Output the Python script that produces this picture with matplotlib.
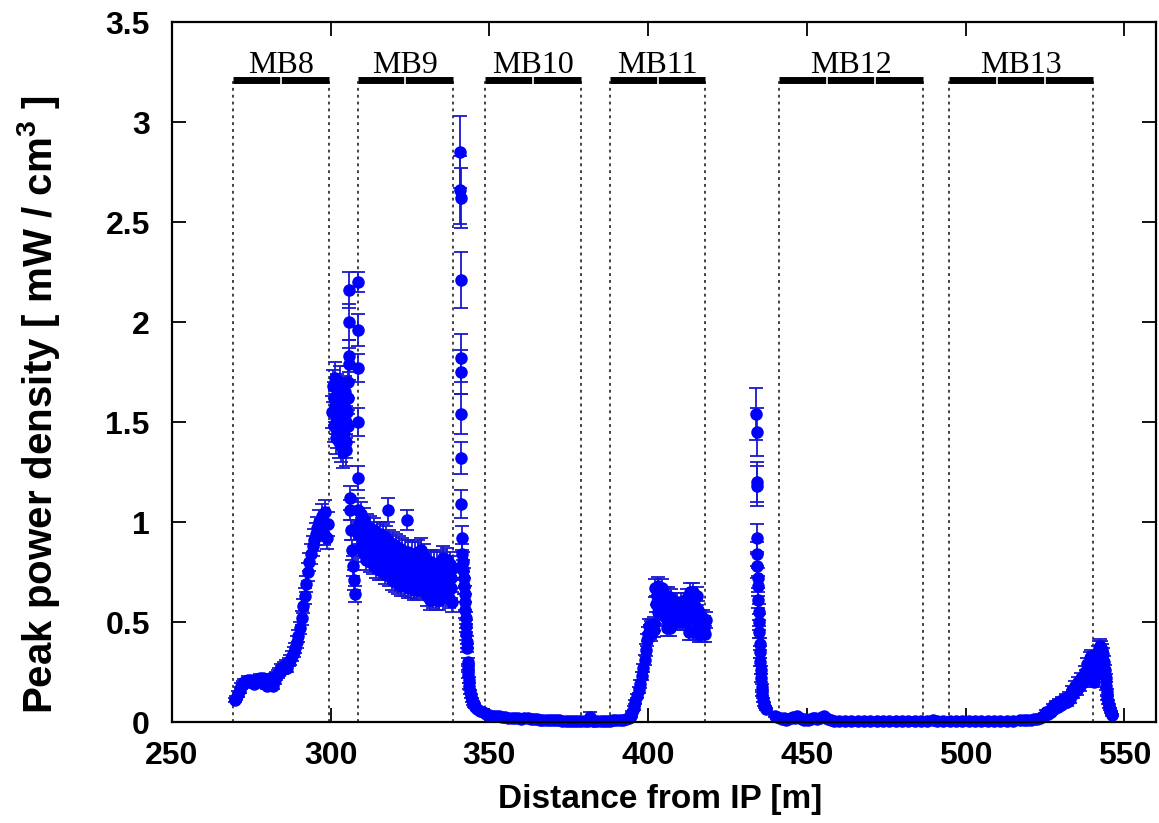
import matplotlib
matplotlib.use('Agg')
import matplotlib.pyplot as plt
from matplotlib.ticker import FuncFormatter

plt.rcParams['font.family'] = ['Liberation Sans', 'DejaVu Sans']
plt.rcParams['mathtext.fontset'] = 'custom'
plt.rcParams['mathtext.bf'] = 'Liberation Sans:bold'
plt.rcParams['mathtext.rm'] = 'Liberation Sans'

# ---------------- data ----------------
# MB8 rise
mb8_x = [269.8, 270.3, 270.8, 271.3, 271.8, 272.3, 272.8, 273.3, 273.8, 274.3,
         274.8, 275.3, 275.8, 276.3, 276.8, 277.3, 277.8, 278.3, 278.8, 279.3,
         279.8, 280.3, 280.8, 281.3, 281.8, 282.3, 282.8, 283.3, 283.8, 284.3,
         284.8, 285.3, 285.8, 286.3, 286.8, 287.3, 287.8, 288.3, 288.8, 289.3,
         289.8, 290.3, 290.8, 291.3, 291.8, 292.3, 292.8, 293.3, 293.8, 294.3,
         294.8, 295.3, 295.8, 296.3, 296.8, 297.3, 297.8, 298.3, 298.8, 299.3]
mb8_y = [0.11, 0.12, 0.14, 0.16, 0.18, 0.19, 0.20, 0.20, 0.21, 0.20,
         0.21, 0.20, 0.19, 0.21, 0.21, 0.20, 0.22, 0.21, 0.22, 0.19,
         0.18, 0.21, 0.22, 0.19, 0.18, 0.21, 0.23, 0.24, 0.25, 0.27,
         0.26, 0.28, 0.29, 0.27, 0.30, 0.31, 0.33, 0.35, 0.37, 0.40,
         0.43, 0.47, 0.52, 0.58, 0.63, 0.69, 0.75, 0.80, 0.84, 0.88,
         0.91, 0.94, 0.97, 1.00, 0.96, 1.03, 0.94, 1.05, 0.92, 0.99]
mb8_err = [0.012, 0.012, 0.014, 0.015, 0.016, 0.017, 0.017, 0.017, 0.018, 0.017,
           0.018, 0.017, 0.017, 0.018, 0.018, 0.017, 0.018, 0.018, 0.018, 0.017,
           0.017, 0.018, 0.018, 0.017, 0.017, 0.018, 0.019, 0.02, 0.02, 0.02,
           0.02, 0.02, 0.022, 0.022, 0.022, 0.024, 0.025, 0.025, 0.027, 0.028,
           0.03, 0.032, 0.035, 0.037, 0.04, 0.042, 0.045, 0.047, 0.05, 0.052,
           0.054, 0.055, 0.057, 0.06, 0.057, 0.06, 0.057, 0.06, 0.055, 0.058]

# blob between MB8 and MB9
blob_x = [300.5, 300.7, 300.9, 301.1, 301.3, 301.5, 301.7, 301.9, 302.1, 302.3,
          302.5, 302.7, 302.9, 303.1, 303.3, 303.5, 303.7, 303.9, 304.1, 304.3,
          304.5, 304.7, 304.9, 305.1, 305.3, 305.5, 301.6, 302.4, 303.2, 304.0,
          304.8, 305.4]
blob_y = [1.55, 1.68, 1.48, 1.62, 1.58, 1.72, 1.52, 1.45, 1.66, 1.60,
          1.40, 1.55, 1.70, 1.47, 1.38, 1.62, 1.52, 1.35, 1.58, 1.44,
          1.65, 1.50, 1.36, 1.55, 1.70, 1.62, 1.42, 1.50, 1.56, 1.46,
          1.40, 1.48]
blob_err = [0.08, 0.08, 0.08, 0.08, 0.08, 0.08, 0.08, 0.08, 0.08, 0.08,
            0.08, 0.08, 0.08, 0.08, 0.08, 0.08, 0.08, 0.08, 0.08, 0.08,
            0.08, 0.08, 0.08, 0.08, 0.08, 0.08, 0.08, 0.08, 0.08, 0.08,
            0.08, 0.08]

# isolated columns near the MB9 entrance
col_x = [305.8, 305.8, 305.9, 305.9, 306.0, 306.2, 306.5, 306.8, 307.0, 307.2, 307.5,
         308.5, 308.5, 308.6, 308.6, 308.7]
col_y = [2.16, 2.00, 1.83, 1.79, 1.12, 1.06, 0.96, 0.86, 0.78, 0.71, 0.64,
         2.20, 1.96, 1.77, 1.50, 1.22]
col_err = [0.09, 0.09, 0.08, 0.08, 0.06, 0.05, 0.05, 0.05, 0.05, 0.05, 0.04,
           0.05, 0.08, 0.07, 0.07, 0.06]

# MB9 band
mb9_x = [308.50, 308.75, 309.00, 309.25, 309.50, 309.75, 310.00, 310.25, 310.50, 310.75,
         311.00, 311.25, 311.50, 311.75, 312.00, 312.25, 312.50, 312.75, 313.00, 313.25,
         313.50, 313.75, 314.00, 314.25, 314.50, 314.75, 315.00, 315.25, 315.50, 315.75,
         316.00, 316.25, 316.50, 316.75, 317.00, 317.25, 317.50, 317.75, 318.00, 318.25,
         318.50, 318.75, 319.00, 319.25, 319.50, 319.75, 320.00, 320.25, 320.50, 320.75,
         321.00, 321.25, 321.50, 321.75, 322.00, 322.25, 322.50, 322.75, 323.00, 323.25,
         323.50, 323.75, 324.00, 324.25, 324.50, 324.75, 325.00, 325.25, 325.50, 325.75,
         326.00, 326.25, 326.50, 326.75, 327.00, 327.25, 327.50, 327.75, 328.00, 328.25,
         328.50, 328.75, 329.00, 329.25, 329.50, 329.75, 330.00, 330.25, 330.50, 330.75,
         331.00, 331.25, 331.50, 331.75, 332.00, 332.25, 332.50, 332.75, 333.00, 333.25,
         333.50, 333.75, 334.00, 334.25, 334.50, 334.75, 335.00, 335.25, 335.50, 335.75,
         336.00, 336.25, 336.50, 336.75, 337.00, 337.25, 337.50, 337.75, 338.00, 338.25,
         338.50, 318.00, 324.00]
mb9_y = [1.06, 0.94, 0.99, 0.87, 1.04, 0.92, 0.97, 0.85, 1.01, 0.89,
         0.93, 0.81, 0.98, 0.86, 0.92, 0.80, 0.97, 0.85, 0.91, 0.79,
         0.96, 0.84, 0.89, 0.77, 0.94, 0.82, 0.88, 0.76, 0.94, 0.82,
         0.88, 0.76, 0.93, 0.81, 0.86, 0.74, 0.92, 0.80, 0.85, 0.73,
         0.90, 0.78, 0.83, 0.71, 0.89, 0.77, 0.82, 0.70, 0.88, 0.76,
         0.81, 0.69, 0.87, 0.75, 0.80, 0.68, 0.86, 0.74, 0.80, 0.68,
         0.85, 0.73, 0.79, 0.67, 0.85, 0.73, 0.79, 0.67, 0.84, 0.72,
         0.78, 0.66, 0.84, 0.72, 0.78, 0.66, 0.85, 0.73, 0.79, 0.67,
         0.86, 0.74, 0.80, 0.68, 0.83, 0.71, 0.75, 0.63, 0.80, 0.68,
         0.73, 0.61, 0.80, 0.68, 0.74, 0.62, 0.79, 0.67, 0.73, 0.61,
         0.79, 0.67, 0.73, 0.61, 0.80, 0.68, 0.75, 0.63, 0.82, 0.70,
         0.76, 0.64, 0.81, 0.69, 0.74, 0.62, 0.79, 0.67, 0.72, 0.60,
         0.77, 1.06, 1.01]
mb9_err = [0.06, 0.05, 0.05, 0.05, 0.06, 0.05, 0.05, 0.05, 0.06, 0.05,
           0.05, 0.05, 0.06, 0.05, 0.05, 0.05, 0.06, 0.05, 0.05, 0.05,
           0.06, 0.05, 0.05, 0.05, 0.06, 0.05, 0.05, 0.05, 0.06, 0.05,
           0.05, 0.05, 0.06, 0.05, 0.05, 0.05, 0.06, 0.05, 0.05, 0.05,
           0.06, 0.05, 0.05, 0.05, 0.06, 0.05, 0.05, 0.05, 0.06, 0.05,
           0.05, 0.05, 0.06, 0.05, 0.05, 0.05, 0.06, 0.05, 0.05, 0.05,
           0.06, 0.05, 0.05, 0.05, 0.06, 0.05, 0.05, 0.05, 0.06, 0.05,
           0.05, 0.05, 0.06, 0.05, 0.05, 0.05, 0.06, 0.05, 0.05, 0.05,
           0.06, 0.05, 0.05, 0.05, 0.06, 0.05, 0.05, 0.05, 0.06, 0.05,
           0.05, 0.05, 0.06, 0.05, 0.05, 0.05, 0.06, 0.05, 0.05, 0.05,
           0.06, 0.05, 0.05, 0.05, 0.06, 0.05, 0.05, 0.05, 0.06, 0.05,
           0.05, 0.05, 0.06, 0.05, 0.05, 0.05, 0.06, 0.05, 0.05, 0.05,
           0.06, 0.06, 0.05]

# peak at the MB9 exit and decay
pk1_x = [340.8, 340.85, 340.9, 340.95, 341.0, 341.05, 341.1, 341.15, 341.2, 341.25,
         341.4, 341.6, 341.8, 342.0, 342.1, 342.2, 342.3, 342.4, 342.5, 342.6,
         342.7, 342.8, 342.9, 343.1, 343.2, 343.3, 343.5, 343.7, 343.9, 344.1,
         344.4, 344.7, 345.0, 345.5, 346.0, 347.0, 348.0, 349.0, 350.0]
pk1_y = [2.85, 2.66, 2.62, 2.21, 1.82, 1.75, 1.54, 1.32, 1.09, 0.92,
         0.84, 0.80, 0.76, 0.72, 0.68, 0.64, 0.60, 0.56, 0.52, 0.48,
         0.44, 0.40, 0.37, 0.30, 0.27, 0.24, 0.21, 0.18, 0.15, 0.13,
         0.11, 0.095, 0.085, 0.075, 0.065, 0.055, 0.05, 0.04, 0.035]
pk1_err = [0.18, 0.17, 0.15, 0.14, 0.12, 0.11, 0.10, 0.08, 0.07, 0.06,
           0.05, 0.05, 0.05, 0.05, 0.04, 0.04, 0.04, 0.04, 0.03, 0.03,
           0.03, 0.03, 0.02, 0.02, 0.02, 0.02, 0.015, 0.015, 0.012, 0.01,
           0.01, 0.01, 0.008, 0.006, 0.006, 0.005, 0.005, 0.005, 0.005]

# flat region MB10
flat1_x = [351, 352, 353, 354, 355, 356, 357, 358, 359, 360, 361, 362, 363, 364,
           365, 366, 367, 368, 369, 370, 371, 372, 373, 374, 375, 376, 377, 378,
           379, 380, 381, 381.7, 382.5, 383, 384, 385, 386, 387, 388, 389, 390,
           391, 392, 393, 394]
flat1_y = [0.032, 0.03, 0.028, 0.026, 0.024, 0.022, 0.02, 0.02, 0.018, 0.016, 0.018, 0.02, 0.016, 0.014,
           0.014, 0.012, 0.012, 0.01, 0.01, 0.009, 0.008, 0.008, 0.007, 0.007, 0.006, 0.006, 0.006, 0.006,
           0.005, 0.005, 0.005, 0.025, 0.005, 0.005, 0.005, 0.005, 0.006, 0.006, 0.007, 0.008, 0.009,
           0.01, 0.012, 0.014, 0.02]
flat1_err = [0.004, 0.004, 0.004, 0.004, 0.004, 0.004, 0.004, 0.004, 0.004, 0.004, 0.004, 0.004, 0.004, 0.004,
             0.004, 0.004, 0.004, 0.004, 0.004, 0.004, 0.004, 0.004, 0.004, 0.004, 0.004, 0.004, 0.004, 0.004,
             0.004, 0.004, 0.004, 0.025, 0.004, 0.004, 0.004, 0.004, 0.004, 0.004, 0.004, 0.004, 0.004,
             0.004, 0.004, 0.004, 0.004]

# MB11
mb11_x = [394.5, 395.0, 395.5, 396.0, 396.5, 397.0, 397.5, 398.0, 398.5, 399.0,
          399.3, 399.6, 400.0, 400.25, 400.5, 400.75, 401.0, 401.25, 401.5, 401.75,
          402.0, 402.25, 402.50, 402.75, 403.00, 403.25, 403.50, 403.75, 404.00, 404.25,
          404.50, 404.75, 405.00, 405.25, 405.50, 405.75, 406.00, 406.25, 406.50, 406.75,
          407.00, 407.25, 407.50, 407.75, 408.00, 408.25, 408.50, 408.75, 409.00, 409.25,
          409.50, 409.75, 410.00, 410.25, 410.50, 410.75, 411.00, 411.25, 411.50, 411.75,
          412.00, 412.25, 412.50, 412.75, 413.00, 413.25, 413.50, 413.75, 414.00, 414.25,
          414.50, 414.75, 415.00, 415.25, 415.50, 415.75, 416.00, 416.25, 416.50, 416.75,
          417.00, 417.25, 417.50, 417.75, 418.00, 418.25]
mb11_y = [0.03, 0.05, 0.07, 0.10, 0.13, 0.16, 0.19, 0.23, 0.27, 0.31,
          0.36, 0.41, 0.44, 0.48, 0.45, 0.47, 0.44, 0.48, 0.46, 0.49,
          0.46, 0.67, 0.59, 0.63, 0.55, 0.68, 0.59, 0.63, 0.55, 0.67,
          0.58, 0.62, 0.53, 0.63, 0.52, 0.58, 0.47, 0.63, 0.52, 0.58,
          0.47, 0.62, 0.52, 0.57, 0.50, 0.60, 0.53, 0.57, 0.50, 0.60,
          0.53, 0.57, 0.50, 0.60, 0.53, 0.57, 0.50, 0.60, 0.53, 0.57,
          0.50, 0.62, 0.52, 0.58, 0.45, 0.65, 0.52, 0.58, 0.45, 0.65,
          0.52, 0.58, 0.45, 0.63, 0.51, 0.56, 0.44, 0.52, 0.47, 0.49,
          0.44, 0.52, 0.47, 0.49, 0.44, 0.51]
mb11_err = [0.005, 0.006, 0.008, 0.01, 0.012, 0.015, 0.018, 0.02, 0.022, 0.025,
            0.03, 0.03, 0.035, 0.035, 0.035, 0.035, 0.035, 0.035, 0.035, 0.035,
            0.035, 0.045, 0.04, 0.045, 0.04, 0.045, 0.04, 0.045, 0.04, 0.045,
            0.04, 0.045, 0.04, 0.045, 0.04, 0.045, 0.04, 0.045, 0.04, 0.045,
            0.04, 0.045, 0.04, 0.045, 0.04, 0.045, 0.04, 0.045, 0.04, 0.045,
            0.04, 0.045, 0.04, 0.045, 0.04, 0.045, 0.04, 0.045, 0.04, 0.045,
            0.04, 0.045, 0.04, 0.045, 0.04, 0.045, 0.04, 0.045, 0.04, 0.045,
            0.04, 0.045, 0.04, 0.045, 0.04, 0.045, 0.04, 0.04, 0.04, 0.04,
            0.04, 0.04, 0.04, 0.04, 0.04, 0.04]

# peak before MB12
pk2_x = [434.1, 434.15, 434.2, 434.25, 434.3, 434.35, 434.4, 434.5, 434.6, 434.7,
         434.8, 434.9, 435.0, 435.1, 435.2, 435.35, 435.5, 435.65, 435.8, 436.0,
         436.2, 436.5, 436.8, 437.1]
pk2_y = [1.54, 1.45, 1.20, 1.18, 0.92, 0.84, 0.78, 0.72, 0.68, 0.61,
         0.55, 0.50, 0.45, 0.39, 0.35, 0.30, 0.26, 0.22, 0.175, 0.14,
         0.11, 0.09, 0.075, 0.065]
pk2_err = [0.13, 0.12, 0.10, 0.10, 0.07, 0.06, 0.06, 0.05, 0.05, 0.04,
           0.04, 0.04, 0.03, 0.03, 0.03, 0.02, 0.02, 0.02, 0.015, 0.012,
           0.01, 0.008, 0.006, 0.005]

# flat region MB12
flat2_x = [440.0, 440.7, 441.4, 442.1, 442.8, 443.5, 444.2, 444.9, 445.6, 446.3, 447.0,
           447.7, 448.4, 449.1, 449.8, 450.5, 451.2, 451.9, 452.6, 453.3, 454.0, 454.7,
           455.4, 456.1, 456.8, 457.5, 458.5, 460, 462, 464, 466, 468, 470, 472, 474,
           476, 478, 480, 482, 484, 486, 488, 489.8, 491, 493, 495, 497, 499, 501, 503,
           505, 507, 509, 511, 513, 515, 517, 518.5]
flat2_y = [0.03, 0.025, 0.02, 0.015, 0.018, 0.012, 0.015, 0.02, 0.025, 0.022, 0.028,
           0.022, 0.015, 0.012, 0.013, 0.012, 0.015, 0.018, 0.02, 0.016, 0.02, 0.025,
           0.028, 0.022, 0.015, 0.01, 0.005, 0.004, 0.003, 0.003, 0.003, 0.003, 0.003, 0.003, 0.003,
           0.003, 0.003, 0.003, 0.003, 0.003, 0.004, 0.005, 0.012, 0.006, 0.004, 0.003, 0.003, 0.003, 0.003, 0.003,
           0.003, 0.003, 0.004, 0.004, 0.005, 0.006, 0.008, 0.01]
flat2_err = [0.005, 0.005, 0.005, 0.005, 0.005, 0.005, 0.005, 0.005, 0.005, 0.005, 0.005,
             0.005, 0.005, 0.005, 0.005, 0.005, 0.005, 0.005, 0.005, 0.005, 0.005, 0.005,
             0.005, 0.005, 0.005, 0.005, 0.003, 0.003, 0.003, 0.003, 0.003, 0.003, 0.003, 0.003, 0.003,
             0.003, 0.003, 0.003, 0.003, 0.003, 0.003, 0.003, 0.006, 0.003, 0.003, 0.003, 0.003, 0.003, 0.003, 0.003,
             0.003, 0.003, 0.003, 0.003, 0.003, 0.003, 0.003, 0.003]

# MB13 rise and final peaks
mb13_x = [519.5, 520.5, 521.5, 522.5, 523.5, 524.3, 525.0, 525.5, 526.0, 526.5,
          527.0, 527.5, 528.0, 528.5, 529.0, 529.5, 530.0, 530.5, 531.0, 531.5,
          532.0, 532.5, 533.0, 533.5, 534.0, 534.5, 535.0, 535.5, 536.0, 536.5,
          537.0, 537.5, 538.0, 538.4, 538.8, 539.1, 539.4, 539.7, 540.0, 540.3,
          540.6, 540.9, 541.2, 541.5, 541.8, 542.1, 542.4, 542.7, 543.0, 543.3,
          543.6, 543.9, 544.1, 544.3, 544.5, 544.7, 544.9, 545.1, 545.4, 545.7,
          546.1]
mb13_y = [0.010, 0.012, 0.014, 0.016, 0.020, 0.028, 0.035, 0.05, 0.04, 0.06,
          0.05, 0.08, 0.065, 0.09, 0.075, 0.10, 0.085, 0.11, 0.095, 0.12,
          0.10, 0.13, 0.115, 0.16, 0.14, 0.18, 0.16, 0.20, 0.18, 0.22,
          0.20, 0.25, 0.23, 0.29, 0.26, 0.32, 0.33, 0.29, 0.25, 0.22,
          0.20, 0.24, 0.28, 0.32, 0.35, 0.37, 0.38, 0.37, 0.36, 0.34,
          0.30, 0.26, 0.22, 0.18, 0.15, 0.12, 0.10, 0.08, 0.065, 0.05,
          0.035]
mb13_err = [0.004, 0.004, 0.004, 0.005, 0.005, 0.006, 0.008, 0.01, 0.01, 0.01,
            0.01, 0.012, 0.012, 0.015, 0.015, 0.015, 0.015, 0.015, 0.015, 0.018,
            0.018, 0.02, 0.02, 0.02, 0.02, 0.025, 0.025, 0.025, 0.025, 0.025,
            0.025, 0.03, 0.03, 0.03, 0.03, 0.03, 0.03, 0.03, 0.03, 0.025,
            0.025, 0.025, 0.03, 0.03, 0.03, 0.035, 0.035, 0.035, 0.03, 0.03,
            0.03, 0.025, 0.02, 0.02, 0.015, 0.012, 0.01, 0.008, 0.006, 0.005,
            0.004]

# magnet blocks
mb_names = ['MB8', 'MB9', 'MB10', 'MB11', 'MB12', 'MB13']
mb_start = [269.3, 308.5, 348.6, 388.0, 441.1, 494.7]
mb_end = [299.5, 338.5, 379.0, 418.0, 486.6, 540.3]
mb_nseg = [2, 2, 2, 2, 3, 3]

x_ticks = [250, 300, 350, 400, 450, 500, 550]
y_ticks = [0, 0.5, 1, 1.5, 2, 2.5, 3, 3.5]

# ---------------- figure ----------------
W, H = 1159, 823
fig = plt.figure(figsize=(W / 100, H / 100), dpi=100)
ax = fig.add_axes([172 / W, 1 - 722 / H, (1156 - 172) / W, 700 / H])
ax.set_xlim(250, 560)
ax.set_ylim(0, 3.5)

BAR_Y = 3.21
for name, x0, x1, n in zip(mb_names, mb_start, mb_end, mb_nseg):
    for xv in (x0, x1):
        ax.plot([xv, xv], [0, BAR_Y], ls=(0, (1.6, 2.2)), color='#333333', lw=1.3, zorder=1)
    ax.plot([x0, x1], [BAR_Y, BAR_Y], color='black', lw=5, solid_capstyle='butt', zorder=4)
    for k in range(1, n):
        xd = x0 + (x1 - x0) * k / n
        ax.plot([xd, xd], [BAR_Y - 0.02, BAR_Y + 0.02], color='white', lw=1.2, zorder=5)
    ax.text((x0 + x1) / 2, BAR_Y + 0.035, name, family='Liberation Serif', fontsize=23,
            ha='center', va='baseline', fontweight='normal', zorder=5)

segments = [(mb8_x, mb8_y, mb8_err), (blob_x, blob_y, blob_err), (col_x, col_y, col_err),
            (mb9_x, mb9_y, mb9_err), (pk1_x, pk1_y, pk1_err), (flat1_x, flat1_y, flat1_err),
            (mb11_x, mb11_y, mb11_err), (pk2_x, pk2_y, pk2_err), (flat2_x, flat2_y, flat2_err),
            (mb13_x, mb13_y, mb13_err)]
for xs, ys, es in segments:
    ax.errorbar(xs, ys, yerr=es, fmt='o', color='#0000ff', ms=8, mec='#0000ff',
                ecolor='#1818d0', elinewidth=1.3, capsize=5, capthick=1.3,
                clip_on=False, zorder=2)

ax.set_xticks(x_ticks)
ax.set_yticks(y_ticks)
ax.yaxis.set_major_formatter(FuncFormatter(lambda v, p: '%g' % v))
ax.xaxis.set_major_formatter(FuncFormatter(lambda v, p: '%g' % v))
ax.tick_params(direction='in', length=10, width=1.3, top=True, right=True,
               labelsize=23, pad=14)
ax.tick_params(axis='y', pad=16)
for lab in ax.get_xticklabels() + ax.get_yticklabels():
    lab.set_fontweight('bold')
for sp in ax.spines.values():
    sp.set_linewidth(1.6)
    sp.set_zorder(3)

ax.set_xlabel('Distance from IP [m]', fontsize=24, fontweight='bold')
ax.set_ylabel(r'Peak power density [ mW / cm$^{\mathbf{3}}$ ]', fontsize=29, fontweight='bold')
ax.xaxis.set_label_coords(0.496, -0.088)
ax.yaxis.set_label_coords(-0.112, 0.453)

fig.savefig('out.png', dpi=100)
